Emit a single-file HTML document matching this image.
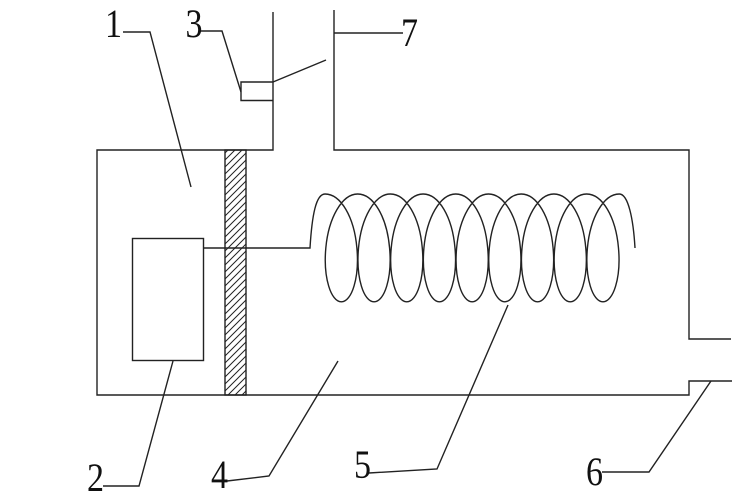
<!DOCTYPE html>
<html>
<head>
<meta charset="utf-8">
<style>
  html, body { margin: 0; padding: 0; background: #ffffff; }
  body { width: 750px; height: 501px; overflow: hidden; }
  svg { display: block; }
  text { font-family: "Liberation Serif", serif; font-size: 40px; fill: #111; }
</style>
</head>
<body>
<svg width="750" height="501" viewBox="0 0 750 501" xmlns="http://www.w3.org/2000/svg">
  <defs>
    <pattern id="hatch" patternUnits="userSpaceOnUse" width="7" height="7">
      <path d="M0,7 L7,0 M-1,1 L1,-1 M6,8 L8,6" stroke="#222" stroke-width="1"/>
    </pattern>
  </defs>

  <g fill="none" stroke="#222" stroke-width="1.4" stroke-linejoin="miter">
    <!-- container outline -->
    <path d="M273,12 L273,150 L97,150 L97,395 L689,395 L689,381 L732,381"/>
    <path d="M334,10 L334,150 L689,150 L689,339 L731,339"/>

    <!-- hatched partition -->
    <rect x="225" y="150" width="21" height="245" fill="url(#hatch)"/>

    <!-- component 2 -->
    <rect x="132.5" y="238.5" width="71" height="122"/>

    <!-- component 3 (valve) -->
    <path d="M273,82 L241,82 L241,100.5 L273,100.5"/>
    <path d="M273,82 L326,60"/>

    <!-- wire + coil -->
    <path d="M203,248 L310,248 C312,215 316,194 325,194
      c15.815,0 29.15,23.13 31.875,53.9 c2.725,29.77 -5.16,53.9 -15.525,53.9 c-10.365,0 -18.25,-24.13 -15.525,-53.9 c2.725,-29.77 16.06,-53.9 31.875,-53.9
      c15.815,0 29.15,23.13 31.875,53.9 c2.725,29.77 -5.16,53.9 -15.525,53.9 c-10.365,0 -18.25,-24.13 -15.525,-53.9 c2.725,-29.77 16.06,-53.9 31.875,-53.9
      c15.815,0 29.15,23.13 31.875,53.9 c2.725,29.77 -5.16,53.9 -15.525,53.9 c-10.365,0 -18.25,-24.13 -15.525,-53.9 c2.725,-29.77 16.06,-53.9 31.875,-53.9
      c15.815,0 29.15,23.13 31.875,53.9 c2.725,29.77 -5.16,53.9 -15.525,53.9 c-10.365,0 -18.25,-24.13 -15.525,-53.9 c2.725,-29.77 16.06,-53.9 31.875,-53.9
      c15.815,0 29.15,23.13 31.875,53.9 c2.725,29.77 -5.16,53.9 -15.525,53.9 c-10.365,0 -18.25,-24.13 -15.525,-53.9 c2.725,-29.77 16.06,-53.9 31.875,-53.9
      c15.815,0 29.15,23.13 31.875,53.9 c2.725,29.77 -5.16,53.9 -15.525,53.9 c-10.365,0 -18.25,-24.13 -15.525,-53.9 c2.725,-29.77 16.06,-53.9 31.875,-53.9
      c15.815,0 29.15,23.13 31.875,53.9 c2.725,29.77 -5.16,53.9 -15.525,53.9 c-10.365,0 -18.25,-24.13 -15.525,-53.9 c2.725,-29.77 16.06,-53.9 31.875,-53.9
      c15.815,0 29.15,23.13 31.875,53.9 c2.725,29.77 -5.16,53.9 -15.525,53.9 c-10.365,0 -18.25,-24.13 -15.525,-53.9 c2.725,-29.77 16.06,-53.9 31.875,-53.9
      c15.815,0 29.15,23.13 31.875,53.9 c2.725,29.77 -5.16,53.9 -15.525,53.9 c-10.365,0 -18.25,-24.13 -15.525,-53.9 c2.725,-29.77 16.06,-53.9 31.875,-53.9
      c9,0 14,25 15.7,54"/>

    <!-- leader lines -->
    <path d="M123,32 L150,32 L191,187"/>
    <path d="M200,31 L222,31 L241,92"/>
    <path d="M334,33 L403,33"/>
    <path d="M103,486 L139,486 L173,361"/>
    <path d="M227,481 L269,476 L338,361"/>
    <path d="M369,473 L437,469 L508,305"/>
    <path d="M602,472 L649,472 L711,381"/>
  </g>

  <!-- labels -->
  <text transform="translate(105,37) scale(0.85,1)">1</text>
  <text transform="translate(185.5,37) scale(0.85,1)">3</text>
  <text transform="translate(401,46) scale(0.85,1)">7</text>
  <text transform="translate(87,491) scale(0.85,1)">2</text>
  <text transform="translate(211,488) scale(0.85,1)">4</text>
  <text transform="translate(354,478) scale(0.85,1)">5</text>
  <text transform="translate(586,485) scale(0.85,1)">6</text>
</svg>
</body>
</html>
